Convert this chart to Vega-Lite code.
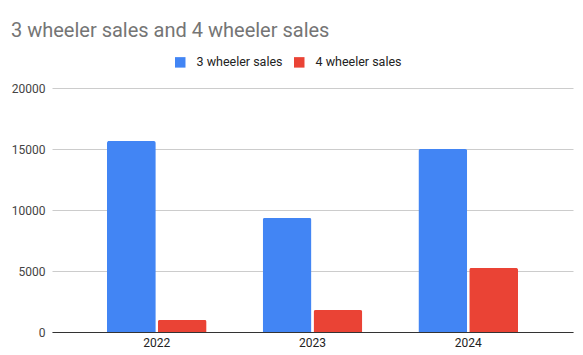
{
  "$schema": "https://vega.github.io/schema/vega-lite/v6.json",
  "width": 521,
  "height": 244,
  "autosize": "none",
  "padding": {"left": 52, "top": 88, "right": 10, "bottom": 23},
  "background": "white",
  "view": {"stroke": null},
  "config": {"view": {"stroke": null}, "axis": {"grid": false}},
  "title": {
    "text": "3 wheeler sales and 4 wheeler sales",
    "anchor": "start",
    "frame": "group",
    "dx": -41,
    "offset": 15,
    "font": "Roboto",
    "fontSize": 20,
    "fontWeight": "normal",
    "color": "#757575"
  },
  "data": {
    "values": [
      {"year": "2022", "series": "3 wheeler sales", "sales": 15650},
      {"year": "2022", "series": "4 wheeler sales", "sales": 990},
      {"year": "2023", "series": "3 wheeler sales", "sales": 9350},
      {"year": "2023", "series": "4 wheeler sales", "sales": 1800},
      {"year": "2024", "series": "3 wheeler sales", "sales": 15000},
      {"year": "2024", "series": "4 wheeler sales", "sales": 5250}
    ]
  },
  "mark": {"type": "bar", "cornerRadiusTopLeft": 2, "cornerRadiusTopRight": 2},
  "encoding": {
    "x": {
      "field": "year",
      "type": "nominal",
      "scale": {"paddingInner": 0.36, "paddingOuter": 0.353},
      "axis": {
        "title": null,
        "labelAngle": 0,
        "ticks": false,
        "grid": false,
        "domainColor": "#333333",
        "labelFont": "Roboto",
        "labelFontSize": 12,
        "labelColor": "#222222",
        "labelPadding": 5
      }
    },
    "xOffset": {
      "field": "series",
      "type": "nominal",
      "scale": {"paddingInner": 0.04, "paddingOuter": 0}
    },
    "y": {
      "field": "sales",
      "type": "quantitative",
      "scale": {"domain": [0, 20000], "nice": false},
      "axis": {
        "title": null,
        "values": [0, 5000, 10000, 15000, 20000],
        "format": "d",
        "domain": false,
        "ticks": false,
        "grid": true,
        "gridColor": "#cccccc",
        "labelFont": "Roboto",
        "labelFontSize": 12,
        "labelColor": "#444444",
        "labelPadding": 7
      }
    },
    "color": {
      "field": "series",
      "type": "nominal",
      "scale": {"range": ["#4285F4", "#EA4335"]},
      "legend": {
        "title": null,
        "orient": "none",
        "direction": "horizontal",
        "legendX": 122,
        "legendY": -32,
        "symbolType": "square",
        "symbolSize": 110,
        "symbolStrokeWidth": 0,
        "columnPadding": 10,
        "labelOffset": 10,
        "labelFont": "Roboto",
        "labelFontSize": 12.5,
        "labelColor": "#222222"
      }
    }
  }
}
